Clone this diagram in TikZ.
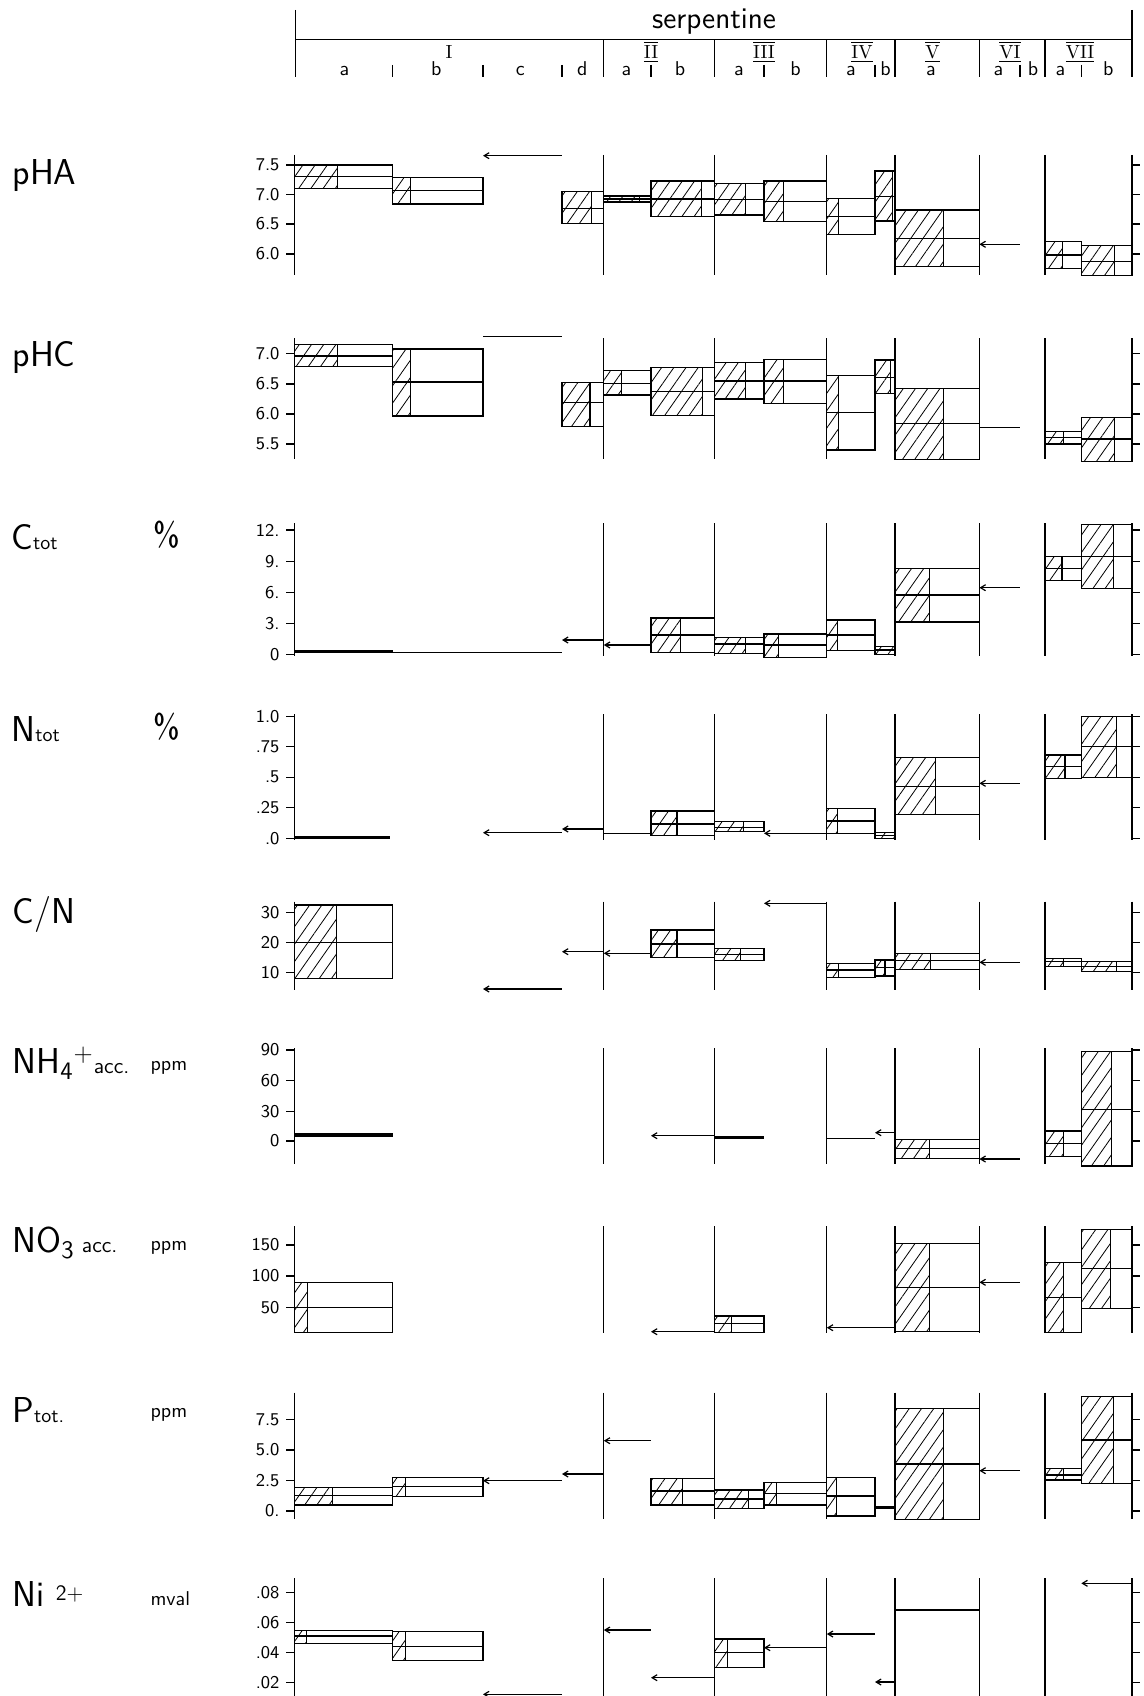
\documentclass[tikz,border=0pt]{standalone}
\usepackage{fontspec}
\usetikzlibrary{arrows.meta}
\usetikzlibrary{patterns.meta}

\tikzset{
  hatch/.style={pattern={Lines[angle=55,distance=5pt,line width=0.4pt]}},
  val/.style={{Straight Barb[length=2.5pt,width=3pt]}-},
  heavy/.style={line width=1.6pt},
  ticklab/.style={anchor=east, inner sep=0pt, font=\sffamily\fontsize{9}{10}\selectfont},
  rowlab/.style={anchor=west, inner sep=0pt, font=\sffamily\fontsize{18}{20}\selectfont},
  unitlab/.style={anchor=west, inner sep=0pt, font=\sffamily\fontsize{10}{11}\selectfont},
  pclab/.style={anchor=west, inner sep=0pt, font=\sffamily\fontsize{17}{19}\selectfont},
  numlab/.style={inner sep=0pt, font=\rmfamily\fontsize{9.5}{10}\selectfont},
  letlab/.style={inner sep=0pt, font=\sffamily\fontsize{10}{11}\selectfont},
}

% one sample: x left, x right, hatched part, top, middle, bottom
\newcommand{\samplebox}[6]{%
  \fill[hatch] (#1,#4) rectangle ({#1+#3*(#2-#1)},#6);
  \draw (#1,#4) rectangle (#2,#6);
  \draw ({#1+#3*(#2-#1)},#4) -- ({#1+#3*(#2-#1)},#6);
  \draw (#1,#5) -- (#2,#5);
}
% a single value: x left, x right, y
\newcommand{\oneval}[3]{\draw[val] (#1,#3) -- (#2,#3);}
% axes of one row: name, top, bottom, ticks y/label
\newcommand{\rowframe}[4]{%
  \draw (294.5,#2) -- (294.5,#3);
  \foreach \gx in {603.8,714.4,826.8,895,979.4,1045,1132}
    \draw (\gx,#2) -- (\gx,#3);
  \foreach \ty/\tl [count=\k] in {#4} {
    \draw (286,\ty) -- (294.5,\ty);
    \draw (1132,\ty) -- (1140,\ty);
    \node[ticklab] (#1-\k) at (280,\ty) {\tl};
  }
}
\newcommand{\rnum}[1]{$\overline{\underline{\mbox{#1}}}$}

\begin{document}
\begin{tikzpicture}[x=0.5pt, y=-0.5pt, line width=0.6pt]
  \useasboundingbox (0,0) rectangle (1144,1696);

  % header
  \draw (295.5,10) -- (295.5,77);
  \draw (1132,10) -- (1132,77);
  \draw (295.5,39.5) -- (1132,39.5);
  \node[font=\sffamily\fontsize{15}{17}\selectfont, inner sep=0pt] (serp) at (714,22) {serpentine};
  \foreach \gx in {603.8,714.4,826.8,895,979.4,1045}
    \draw (\gx,39.5) -- (\gx,77);
  \foreach \sx in {392.5,483,562,651,764,875,1020,1081.3}
    \draw (\sx,65) -- (\sx,77);
  \node[numlab] (gI) at (449,52) {I};
  \node[numlab] (gII) at (651,52) {\rnum{II}};
  \node[numlab] (gIII) at (764,52) {\rnum{III}};
  \node[numlab] (gIV) at (862,52) {\rnum{IV}};
  \node[numlab] (gV) at (932.5,52) {\rnum{V}};
  \node[numlab] (gVI) at (1010,52) {\rnum{VI}};
  \node[numlab] (gVII) at (1080,52) {\rnum{VII}};
  \foreach \lx/\lt [count=\k] in {344.5/a,436.4/b,520.4/c,582.4/d,626.4/a,680/b,739/a,795.5/b,850.8/a,885.5/b,930.8/a,998.5/a,1033/b,1060.5/a,1108.4/b}
    \node[letlab, anchor=base] (sub-\k) at (\lx,76) {\lt};

  % pHA
  \node[rowlab] (labpHA) at (12,176) {pHA};
  \rowframe{pHA}{155}{275}{165/7.5,194.3/7.0,224/6.5,254/6.0}
  \samplebox{294.5}{392.5}{0.44}{165}{176.7}{188.3}
  \samplebox{392.5}{483}{0.2}{177.7}{190.7}{204}
  \oneval{483}{562}{155.7}
  \samplebox{562}{603.8}{0.71}{191.7}{208.3}{223.3}
  \samplebox{603.8}{651}{0.75}{196}{199}{202}
  \samplebox{651}{714.4}{0.8}{181}{199}{216.7}
  \samplebox{714.4}{764}{0.63}{183.3}{199.3}{215}
  \samplebox{764}{826.8}{0.31}{181}{201.7}{221.7}
  \samplebox{826.8}{875}{0.25}{198.3}{216.7}{234.3}
  \samplebox{875}{895}{0.88}{171}{196.7}{221}
  \samplebox{895}{979.4}{0.57}{210}{238.3}{266.7}
  \oneval{979.4}{1020}{244.3}
  \samplebox{1045}{1081.3}{0.49}{241.7}{255}{268.3}
  \samplebox{1081.3}{1132}{0.66}{245.7}{261.7}{275.7}

  % pHC
  \node[rowlab] (labpHC) at (12,357) {pHC};
  \rowframe{pHC}{338}{459}{353.3/7.0,384/6.5,414/6.0,444/5.5}
  \samplebox{294.5}{392.5}{0.44}{344.3}{356}{366.7}
  \samplebox{392.5}{483}{0.2}{349}{382}{416}
  \draw (483,336.7) -- (562,336.7);
  \samplebox{562}{603.8}{0.67}{382.3}{402.3}{426.7}
  \samplebox{603.8}{651}{0.38}{370.7}{383.3}{395}
  \samplebox{651}{714.4}{0.81}{367.7}{391.7}{415.7}
  \samplebox{714.4}{764}{0.63}{362.7}{381}{399}
  \samplebox{764}{826.8}{0.31}{359.3}{381}{403.3}
  \samplebox{826.8}{875}{0.25}{375.7}{412.3}{450}
  \samplebox{875}{895}{0.78}{360}{377.3}{393.3}
  \samplebox{895}{979.4}{0.57}{388.3}{423.3}{459.3}
  \draw (979.4,427.7) -- (1020,427.7);
  \samplebox{1045}{1081.3}{0.5}{431.7}{437.5}{444}
  \samplebox{1081.3}{1132}{0.66}{417.3}{439}{461.7}

  % C tot
  \node[rowlab] (labC) at (11,537) {C{\fontsize{10}{11}\selectfont tot}};
  \node[pclab] (unitC) at (153,535) {\%};
  \rowframe{C}{523.3}{655.5}{530/12.,561.7/9.,592.7/6.,623.7/3.,654.7/0}
  \draw[heavy] (294.5,651.7) -- (392.5,651.7);
  \draw (392.5,652.3) -- (562,652.3);
  \oneval{562}{603.8}{640}
  \oneval{603.8}{651}{645}
  \samplebox{651}{714.4}{0.47}{618}{635}{652.3}
  \samplebox{714.4}{764}{0.62}{637.3}{644}{653.3}
  \samplebox{764}{826.8}{0.23}{634}{645}{657.7}
  \samplebox{826.8}{875}{0.23}{620}{635}{650.7}
  \samplebox{875}{895}{1}{646.7}{650}{654.3}
  \samplebox{895}{979.4}{0.41}{568.3}{595}{622}
  \oneval{979.4}{1020}{587.7}
  \samplebox{1045}{1081.3}{0.47}{556.7}{568.3}{580.7}
  \samplebox{1081.3}{1132}{0.64}{524.3}{556.7}{588.3}

  % N tot
  \node[rowlab] (labN) at (11,729) {N{\fontsize{10}{11}\selectfont tot}};
  \node[pclab] (unitN) at (153,727) {\%};
  \rowframe{N}{714.3}{840}{716.7/1.0,746.7/.75,777.3/.5,807.7/.25,838.3/.0}
  \draw[heavy] (294.5,837.3) -- (390,837.3);
  \oneval{483}{562}{832.7}
  \oneval{562}{603.8}{829}
  \draw (603.8,833.3) -- (651,833.3);
  \samplebox{651}{714.4}{0.41}{811}{824}{835.7}
  \samplebox{714.4}{764}{0.59}{821.7}{827.3}{831.7}
  \oneval{764}{826.8}{833.3}
  \samplebox{826.8}{875}{0.22}{808.3}{821}{833.3}
  \samplebox{875}{895}{1}{832.3}{835.3}{838.3}
  \samplebox{895}{979.4}{0.48}{757.7}{786.7}{814.3}
  \oneval{979.4}{1020}{783.3}
  \samplebox{1045}{1081.3}{0.55}{755}{766.7}{778.3}
  \samplebox{1081.3}{1132}{0.7}{716.7}{746.7}{777.3}

  % C/N
  \node[rowlab] (labCN) at (12,914) {C/N};
  \rowframe{CN}{901.7}{990}{912.7/30,942.7/20,972.7/10}
  \samplebox{294.5}{392.5}{0.43}{905}{942.3}{978.3}
  \oneval{483}{562}{989}
  \oneval{562}{603.8}{951.7}
  \oneval{603.8}{651}{953.3}
  \samplebox{651}{714.4}{0.41}{930}{944}{957.3}
  \samplebox{714.4}{764}{0.52}{948.3}{954.3}{960.7}
  \oneval{764}{826.8}{903.3}
  \samplebox{826.8}{875}{0.25}{963.3}{970}{977.7}
  \samplebox{875}{895}{0.5}{960}{967.7}{976}
  \samplebox{895}{979.4}{0.42}{953.3}{960.7}{969.3}
  \oneval{979.4}{1020}{962.3}
  \samplebox{1045}{1081.3}{0.5}{958.3}{961.7}{966.7}
  \samplebox{1081.3}{1132}{0.7}{961.7}{966.7}{971.7}

  % NH4+
  \node[rowlab] (labNH) at (12,1063) {NH\textsubscript{4}\textsuperscript{+}{\fontsize{11}{12}\selectfont acc.}};
  \node[unitlab] (unitNH) at (150,1068) {ppm};
  \rowframe{NH}{1048.3}{1164}{1050/90,1080.7/60,1111.7/30,1141/0}
  \draw[heavy] (294.5,1135) -- (392.5,1135);
  \oneval{651}{714.4}{1135.7}
  \draw[heavy] (714.4,1137.3) -- (764,1137.3);
  \draw (826.8,1138.3) -- (875,1138.3);
  \oneval{875}{895}{1132.7}
  \samplebox{895}{979.4}{0.41}{1139.3}{1148.3}{1158.3}
  \oneval{979.4}{1020}{1159}
  \samplebox{1045}{1081.3}{0.5}{1131}{1143.3}{1156.7}
  \samplebox{1081.3}{1132}{0.59}{1051.7}{1109.3}{1166}

  % NO3
  \node[rowlab] (labNO) at (12,1243) {NO\textsubscript{3}{\fontsize{11}{12}\selectfont\ acc.}};
  \node[unitlab] (unitNO) at (150,1248) {ppm};
  \rowframe{NO}{1226}{1332.7}{1245/150,1276/100,1307.3/50}
  \samplebox{294.5}{392.5}{0.13}{1282.7}{1307.3}{1332.3}
  \oneval{651}{714.4}{1331.7}
  \samplebox{714.4}{764}{0.34}{1316}{1323.3}{1332.3}
  \oneval{826.8}{895}{1327.7}
  \samplebox{895}{979.4}{0.41}{1243.3}{1287.3}{1331.3}
  \oneval{979.4}{1020}{1282.3}
  \samplebox{1045}{1081.3}{0.5}{1262.3}{1297.3}{1332.3}
  \samplebox{1081.3}{1132}{0.58}{1229.3}{1268.3}{1308.3}

  % P tot
  \node[rowlab] (labP) at (12,1410) {P{\fontsize{10}{11}\selectfont tot.}};
  \node[unitlab] (unitP) at (150,1415) {ppm};
  \rowframe{P}{1392.7}{1519.3}{1419.3/7.5,1450/5.0,1480.7/2.5,1511/0.}
  \samplebox{294.5}{392.5}{0.39}{1487.3}{1495.7}{1505}
  \samplebox{392.5}{483}{0.14}{1477.7}{1486.7}{1496.7}
  \oneval{483}{562}{1480.7}
  \oneval{562}{603.8}{1474}
  \oneval{603.8}{651}{1440.7}
  \samplebox{651}{714.4}{0.5}{1478.3}{1491}{1505}
  \samplebox{714.4}{764}{0.68}{1490}{1499}{1508.3}
  \samplebox{764}{826.8}{0.2}{1482.3}{1493.3}{1505}
  \samplebox{826.8}{875}{0.2}{1477.7}{1496}{1516}
  \draw[heavy] (875,1507.7) -- (895,1507.7);
  \samplebox{895}{979.4}{0.57}{1408.3}{1464}{1519.3}
  \oneval{979.4}{1020}{1470.7}
  \samplebox{1045}{1081.3}{0.5}{1468.3}{1475}{1480}
  \samplebox{1081.3}{1132}{0.64}{1396.7}{1440}{1483.3}

  % Ni 2+
  \node[rowlab] (labNi) at (12,1594) {Ni {\fontsize{11}{12}\selectfont\raisebox{0.6ex}{2+}}};
  \node[unitlab] (unitNi) at (150,1599) {mval};
  \rowframe{Ni}{1578.3}{1696}{1592.7/.08,1622.7/.06,1652.7/.04,1682.3/.02}
  \samplebox{294.5}{392.5}{0.12}{1630.7}{1636}{1643.3}
  \samplebox{392.5}{483}{0.14}{1631.7}{1646.7}{1660.7}
  \oneval{483}{562}{1694.3}
  \oneval{603.8}{651}{1630}
  \oneval{651}{714.4}{1677.7}
  \samplebox{714.4}{764}{0.26}{1639}{1652.7}{1667.3}
  \oneval{764}{826.8}{1647.7}
  \oneval{826.8}{875}{1634}
  \oneval{875}{895}{1682}
  \draw (895,1610) -- (979.4,1610);
  \oneval{1081.3}{1132}{1583.3}
\end{tikzpicture}
\end{document}
